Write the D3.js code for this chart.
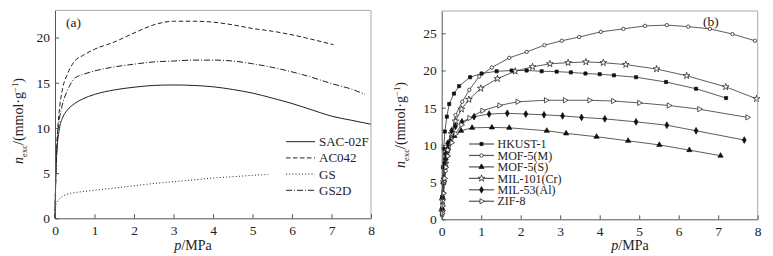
<!DOCTYPE html>
<html><head><meta charset="utf-8">
<script src="https://cdn.jsdelivr.net/npm/d3@7"></script>
<style>
body{margin:0;background:#fff;}
svg{display:block;font-family:"Liberation Serif","Times New Roman",serif;}
</style></head>
<body><svg id="c" width="773" height="256"></svg>
<script>
// ---------- Panel (a) data ----------
const sacP = [0,0.02,0.05,0.1,0.2,0.3,0.5,0.7,1,1.5,2,2.5,3,3.5,4,4.5,5,5.5,6,6.5,7,7.5,8];
const sacV = [0,4.5,7.5,9.6,11.2,11.9,12.7,13.2,13.7,14.2,14.5,14.7,14.75,14.7,14.55,14.25,13.85,13.3,12.7,12.0,11.3,10.85,10.4];
const acP  = [0,0.02,0.05,0.1,0.2,0.3,0.5,0.7,1,1.5,2,2.5,3,3.5,4,4.5,5,5.5,6,6.5,7.05];
const acV  = [0,5,8.5,11.5,14.5,15.8,17.4,18.0,18.7,19.5,20.5,21.4,21.8,21.8,21.7,21.4,21.0,20.7,20.3,19.8,19.2];
const gsP  = [0,0.02,0.05,0.1,0.2,0.3,0.5,0.7,1,1.5,2,2.5,3,3.5,4,4.5,5,5.4];
const gsV  = [0.8,1.4,1.8,2.1,2.45,2.65,2.85,2.95,3.1,3.35,3.6,3.85,4.05,4.25,4.45,4.6,4.75,4.85];
const gs2P = [0,0.02,0.05,0.1,0.2,0.3,0.5,0.7,1,1.5,2,2.5,3,3.5,4,4.5,5,5.5,6,6.5,7,7.5,7.85];
const gs2V = [0,4.5,8,10.5,12.8,14.0,15.5,15.9,16.3,16.75,17.05,17.3,17.4,17.5,17.5,17.4,17.1,16.7,16.2,15.6,14.9,14.3,13.7];
const namesA = ["SAC-02F","AC042","GS","GS2D"];

// ---------- Panel (b) data ----------
const hkP = [0.01,0.03,0.05,0.08,0.13,0.19,0.31,0.44,0.72,1.01,1.39,1.77,2.15,2.53,2.91,3.27,3.64,4.0,4.36,4.92,5.68,6.44,7.2];
const hkV = [3,7,9.5,11.8,13.8,15.5,16.9,17.9,19.1,19.6,19.9,20.0,20.0,19.9,19.85,19.75,19.6,19.5,19.35,19.1,18.45,17.55,16.3];
const m5mP = [0.01,0.02,0.03,0.05,0.07,0.1,0.15,0.2,0.27,0.35,0.52,0.7,0.95,1.27,1.71,2.15,2.6,3.04,3.48,4.03,4.6,5.15,5.7,6.24,6.79,7.36,7.93];
const m5mV = [0.5,1.2,2.0,3.5,5.0,6.5,8.5,10.2,12.0,14.0,15.8,17.4,19.2,20.4,21.7,22.5,23.4,24.0,24.5,25.2,25.6,26.0,26.1,25.9,25.6,24.9,24.0];
const m5sP = [0.01,0.02,0.04,0.07,0.1,0.15,0.22,0.32,0.49,0.77,1.27,1.71,2.66,3.15,3.92,4.72,5.51,6.27,7.06];
const m5sV = [1.5,3,5,7,8.2,9.5,10.5,11.2,11.9,12.3,12.35,12.3,11.9,11.55,11.1,10.55,10.0,9.3,8.55];
const milP = [0.01,0.02,0.05,0.1,0.15,0.25,0.35,0.5,0.69,0.99,1.41,1.86,2.3,2.74,3.2,3.65,4.09,4.66,5.44,6.2,7.19,7.97];
const milV = [1.0,2.5,5.0,7.5,9.3,11.5,13.2,14.8,16.1,17.6,18.9,19.9,20.5,20.9,21.05,21.15,21.05,20.8,20.2,19.3,17.8,16.2];
const m53P = [0.01,0.02,0.04,0.07,0.1,0.15,0.25,0.35,0.51,0.82,1.2,1.66,2.13,2.59,3.06,3.54,4.13,4.92,5.7,6.44,7.66];
const m53V = [1.5,3,5.5,7.5,8.8,10.2,11.9,12.5,13.1,13.8,14.15,14.25,14.15,14.05,13.9,13.7,13.5,13.1,12.65,11.9,10.65];
const zifP = [0.01,0.02,0.04,0.07,0.1,0.15,0.25,0.35,0.5,0.7,1.03,1.46,1.92,2.64,3.12,3.74,4.34,5.0,5.75,6.52,7.74];
const zifV = [0.8,1.8,3.5,5.5,7.0,8.5,10.3,11.5,12.7,13.6,14.6,15.3,15.8,16.0,16.0,16.0,15.9,15.65,15.3,14.8,13.7];
const namesB = ["HKUST-1","MOF-5(M)","MOF-5(S)","MIL-101(Cr)","MIL-53(Al)","ZIF-8"];

const xTicks = [0,1,2,3,4,5,6,7,8];
const yTicksA = [0,5,10,15,20];
const yTicksB = [0,5,10,15,20,25];

const FONT = "Liberation Serif";
const svg = d3.select("#c");
const zip = (p,v)=>p.map((x,i)=>[x,v[i]]);

function frame(g, x, y, yt){
  const [x0,x1]=x.range(), [y0,y1]=y.range();
  g.append("line").attr("x1",x0).attr("x2",x1).attr("y1",y1).attr("y2",y1).attr("stroke","#aaa").attr("stroke-width",1);
  g.append("line").attr("x1",x1).attr("x2",x1).attr("y1",y1).attr("y2",y0).attr("stroke","#aaa").attr("stroke-width",1);
  const ax = g.append("g").attr("transform",`translate(0,${y0})`)
    .call(d3.axisBottom(x).tickValues(xTicks).tickSizeInner(-4).tickSizeOuter(0).tickPadding(7).tickFormat(d3.format("d")));
  const ay = g.append("g").attr("transform",`translate(${x0},0)`)
    .call(d3.axisLeft(y).tickValues(yt).tickSizeInner(-4).tickSizeOuter(0).tickPadding(5).tickFormat(d3.format("d")));
  [ax,ay].forEach(a=>{
    a.attr("font-family",FONT);
    a.select(".domain").attr("stroke","#555");
    a.selectAll(".tick line").attr("stroke","#555");
    a.selectAll("text").attr("font-family",FONT).attr("font-size",13.5).attr("fill","#222");
  });
}

function ylabel(g, xpos, ycen, fs){
  const t = g.append("text").attr("transform",`translate(${xpos},${ycen}) rotate(-90)`)
    .attr("text-anchor","middle").attr("font-family",FONT).attr("font-size",fs).attr("fill","#222");
  t.append("tspan").attr("font-style","italic").text("n");
  t.append("tspan").attr("font-size",fs*0.62).attr("dy",fs*0.25).text("exc");
  t.append("tspan").attr("dy",-fs*0.25).text("/(mmol·g");
  t.append("tspan").attr("font-size",fs*0.62).attr("dy",-fs*0.38).text("−1");
  t.append("tspan").attr("dy",fs*0.38).text(")");
}
function xlabel(g, xc, yb){
  const t = g.append("text").attr("x",xc).attr("y",yb).attr("text-anchor","middle")
    .attr("font-family",FONT).attr("font-size",14).attr("fill","#222");
  t.append("tspan").attr("font-style","italic").text("p");
  t.append("tspan").text("/MPa");
}

// ---------- Panel (a) ----------
const xa = d3.scaleLinear().domain([0,8]).range([55,371]);
const ya = d3.scaleLinear().domain([0,23]).range([218.3,10.4]);
const ga = svg.append("g");
const seriesA = [zip(sacP,sacV), zip(acP,acV), zip(gsP,gsV), zip(gs2P,gs2V)];
const dashA = [null,"4.5,2.5","1,2.2","6,2,1,2"];
const lineA = d3.line().x(d=>xa(d[0])).y(d=>ya(d[1])).curve(d3.curveMonotoneX);
seriesA.forEach((s,i)=>{
  ga.append("path").attr("d",lineA(s)).attr("fill","none").attr("stroke","#222")
    .attr("stroke-width",1).attr("stroke-dasharray",dashA[i]);
});
frame(ga, xa, ya, yTicksA);
namesA.forEach((n,i)=>{
  const yy = 141.7 + i*16.2;
  ga.append("line").attr("x1",286).attr("x2",315).attr("y1",yy).attr("y2",yy)
    .attr("stroke","#222").attr("stroke-width",1).attr("stroke-dasharray",dashA[i]);
  ga.append("text").attr("x",319).attr("y",yy).attr("dy","0.35em").attr("font-family",FONT)
    .attr("font-size",13).attr("fill","#222").text(n);
});
ga.append("text").attr("x",66).attr("y",27).attr("font-family",FONT).attr("font-size",13.5).attr("fill","#222").text("(a)");
ylabel(ga, 23, 121, 14);
xlabel(ga, 193, 250);

// ---------- Panel (b) ----------
const xb = d3.scaleLinear().domain([0,8]).range([441.7,757.7]);
const yb = d3.scaleLinear().domain([0,28]).range([219.3,11]);
const gb = svg.append("g");
const seriesB = [zip(hkP,hkV), zip(m5mP,m5mV), zip(m5sP,m5sV), zip(milP,milV), zip(m53P,m53V), zip(zifP,zifV)];
const symB = [
  {t:d3.symbolSquare, s:10, fill:"#111", rot:0},
  {t:d3.symbolCircle, s:9, fill:"#fff", rot:0},
  {t:d3.symbolTriangle, s:12, fill:"#111", rot:0},
  {t:d3.symbolStar, s:14, fill:"#fff", rot:0},
  {t:d3.symbolDiamond, s:13, fill:"#111", rot:0},
  {t:d3.symbolTriangle, s:12, fill:"#fff", rot:90}
];
const lineB = d3.line().x(d=>xb(d[0])).y(d=>yb(d[1]));
seriesB.forEach((s,i)=>{
  gb.append("path").attr("d",lineB(s)).attr("fill","none").attr("stroke","#333").attr("stroke-width",0.8);
});
seriesB.forEach((s,i)=>{
  const sy = symB[i];
  gb.selectAll(null).data(s).enter().append("path")
    .attr("d",d3.symbol().type(sy.t).size(sy.s))
    .attr("transform",d=>`translate(${xb(d[0])},${yb(d[1])}) rotate(${sy.rot})`)
    .attr("fill",sy.fill).attr("stroke","#111").attr("stroke-width",0.7);
});
frame(gb, xb, yb, yTicksB);
namesB.forEach((n,i)=>{
  const yy = 144 + i*11.45;
  const sy = symB[i];
  gb.append("line").attr("x1",469).attr("x2",494).attr("y1",yy).attr("y2",yy)
    .attr("stroke","#555").attr("stroke-width",1.2);
  gb.append("path").attr("d",d3.symbol().type(sy.t).size(sy.s))
    .attr("transform",`translate(481.5,${yy}) rotate(${sy.rot})`)
    .attr("fill",sy.fill).attr("stroke","#111").attr("stroke-width",0.7);
  gb.append("text").attr("x",497.5).attr("y",yy).attr("dy","0.35em").attr("font-family",FONT)
    .attr("font-size",12).attr("fill","#222").text(n);
});
gb.append("text").attr("x",703).attr("y",26).attr("font-family",FONT).attr("font-size",13.5).attr("fill","#222").text("(b)");
ylabel(gb, 405, 125, 14);
xlabel(gb, 630, 250);
</script></body></html>
